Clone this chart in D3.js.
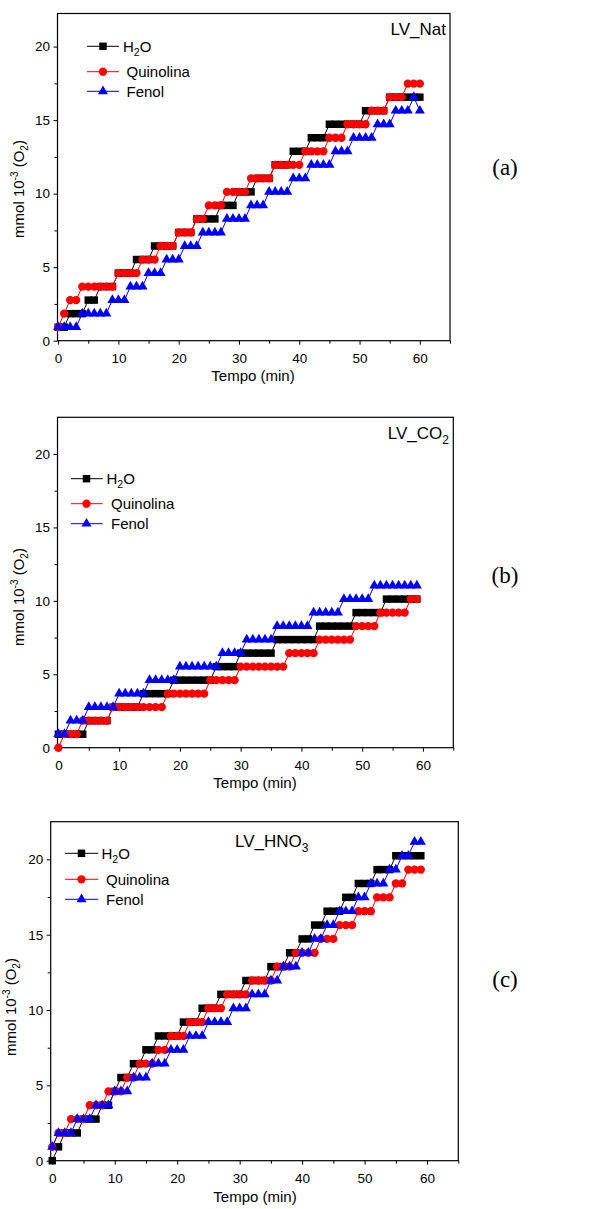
<!DOCTYPE html>
<html>
<head>
<meta charset="utf-8">
<script src="https://cdn.jsdelivr.net/npm/d3@7/dist/d3.min.js"></script>
<style>
  body { margin: 0; background: #fff; }
  svg text { font-family: "Liberation Sans", Arial, sans-serif; fill: #000; }
</style>
</head>
<body>
<svg id="chart" width="590" height="1209"></svg>
<script>
var svg = d3.select("#chart");

// time (min)
var tempo = [0,1,2,3,4,5,6,7,8,9,10,11,12,13,14,15,16,17,18,19,20,21,22,23,24,25,26,27,28,29,
  30,31,32,33,34,35,36,37,38,39,40,41,42,43,44,45,46,47,48,49,50,51,52,53,54,55,56,57,58,59,60];

// (a) LV_Nat  - mmol 10^-3 O2
var nat_h2o = [0.92,0.92, 1.84,1.84,1.84, 2.76,2.76, 3.68,3.68,3.68, 4.6,4.6,4.6, 5.52,5.52,5.52,
  6.44,6.44,6.44,6.44, 7.36,7.36,7.36, 8.28,8.28,8.28,8.28, 9.2,9.2,9.2, 10.12,10.12,10.12,
  11.04,11.04,11.04, 11.96,11.96,11.96, 12.88,12.88,12.88, 13.8,13.8,13.8,
  14.72,14.72,14.72,14.72,14.72,14.72, 15.64,15.64,15.64,15.64, 16.56,16.56,16.56,16.56,16.56,16.56];
var nat_quin = [0.92, 1.84, 2.76,2.76, 3.68,3.68,3.68,3.68,3.68,3.68, 4.6,4.6,4.6,4.6, 5.52,5.52,5.52,
  6.44,6.44,6.44, 7.36,7.36,7.36, 8.28,8.28, 9.2,9.2,9.2, 10.12,10.12,10.12,10.12,
  11.04,11.04,11.04,11.04, 11.96,11.96,11.96,11.96,11.96, 12.88,12.88,12.88,12.88, 13.8,13.8,13.8,
  14.72,14.72,14.72,14.72, 15.64,15.64,15.64, 16.56,16.56,16.56, 17.48,17.48,17.48];
var nat_fenol = [0.92,0.92,0.92,0.92, 1.84,1.84,1.84,1.84,1.84, 2.76,2.76,2.76, 3.68,3.68,3.68,
  4.6,4.6,4.6, 5.52,5.52,5.52, 6.44,6.44,6.44, 7.36,7.36,7.36,7.36, 8.28,8.28,8.28,8.28,
  9.2,9.2,9.2, 10.12,10.12,10.12,10.12, 11.04,11.04,11.04, 11.96,11.96,11.96,11.96,
  12.88,12.88,12.88, 13.8,13.8,13.8,13.8, 14.72,14.72,14.72, 15.64,15.64,15.64, 16.56, 15.64];

// (b) LV_CO2
var co2_h2o = [0.92,0.92,0.92,0.92,0.92, 1.84,1.84,1.84,1.84, 2.76,2.76,2.76,2.76,2.76,
  3.68,3.68,3.68,3.68,3.68, 4.6,4.6,4.6,4.6,4.6,4.6,4.6, 5.52,5.52,5.52,5.52,
  6.44,6.44,6.44,6.44,6.44,6.44, 7.36,7.36,7.36,7.36,7.36,7.36,7.36, 8.28,8.28,8.28,8.28,8.28,8.28,
  9.2,9.2,9.2,9.2,9.2, 10.12,10.12,10.12,10.12,10.12,10.12];
var co2_quin = [0, 0.92,0.92,0.92, 1.84,1.84,1.84,1.84,1.84, 2.76,2.76,2.76,2.76,2.76,2.76,2.76,2.76,2.76,
  3.68,3.68,3.68,3.68,3.68,3.68,3.68, 4.6,4.6,4.6,4.6,4.6, 5.52,5.52,5.52,5.52,5.52,5.52,5.52,5.52,
  6.44,6.44,6.44,6.44,6.44, 7.36,7.36,7.36,7.36,7.36,7.36, 8.28,8.28,8.28,8.28,
  9.2,9.2,9.2,9.2,9.2, 10.12,10.12];
var co2_fenol = [0.92,0.92, 1.84,1.84,1.84, 2.76,2.76,2.76,2.76,2.76, 3.68,3.68,3.68,3.68,3.68,
  4.6,4.6,4.6,4.6,4.6, 5.52,5.52,5.52,5.52,5.52,5.52,5.52, 6.44,6.44,6.44,6.44,
  7.36,7.36,7.36,7.36,7.36, 8.28,8.28,8.28,8.28,8.28,8.28, 9.2,9.2,9.2,9.2,9.2,
  10.12,10.12,10.12,10.12,10.12, 11.04,11.04,11.04,11.04,11.04,11.04,11.04,11.04];

// (c) LV_HNO3
var hno3_h2o = [0, 0.92, 1.84,1.84,1.84, 2.76,2.76,2.76, 3.68,3.68, 4.6, 5.52,5.52, 6.44,6.44, 7.36,7.36,
  8.28,8.28,8.28,8.28, 9.2,9.2,9.2, 10.12,10.12,10.12, 11.04,11.04,11.04,11.04,
  11.96,11.96,11.96,11.96, 12.88,12.88,12.88, 13.8,13.8, 14.72,14.72, 15.64,15.64,
  16.56,16.56,16.56, 17.48,17.48, 18.4,18.4,18.4, 19.32,19.32,19.32, 20.24,20.24,20.24,20.24,20.24];
var hno3_quin = [0.92, 1.84,1.84, 2.76,2.76,2.76, 3.68,3.68,3.68, 4.6,4.6,4.6, 5.52,5.52, 6.44,6.44,6.44,
  7.36,7.36, 8.28,8.28,8.28, 9.2,9.2,9.2, 10.12,10.12,10.12, 11.04,11.04,11.04,11.04,
  11.96,11.96,11.96,11.96, 12.88,12.88,12.88, 13.8,13.8,13.8,13.8, 14.72,14.72,14.72,
  15.64,15.64,15.64, 16.56,16.56,16.56, 17.48,17.48,17.48, 18.4,18.4, 19.32,19.32,19.32];
var hno3_fenol = [0.92, 1.84,1.84,1.84, 2.76,2.76,2.76, 3.68,3.68,3.68, 4.6,4.6,4.6, 5.52,5.52,5.52,
  6.44,6.44,6.44, 7.36,7.36,7.36, 8.28,8.28,8.28, 9.2,9.2,9.2,9.2, 10.12,10.12,10.12,
  11.04,11.04,11.04, 11.96,11.96, 12.88,12.88,12.88, 13.8,13.8, 14.72,14.72, 15.64,15.64,
  16.56,16.56,16.56, 17.48,17.48, 18.4,18.4,18.4, 19.32,19.32, 20.24,20.24, 21.16,21.16];

var seriesNames = ["H2O", "Quinolina", "Fenol"];
var seriesColors = ["#000000", "#ff0000", "#0000ff"];
var seriesSymbols = [d3.symbolSquare, d3.symbolCircle, d3.symbolTriangle];
var symbolSizes = [56, 54, 44];

var xTicks = [0, 10, 20, 30, 40, 50, 60];
var xMinor = [5, 15, 25, 35, 45, 55, 65];
var yTicks = [0, 5, 10, 15, 20];
var yMinor = [2.5, 7.5, 12.5, 17.5];

var panels = [
  {data: [nat_h2o, nat_quin, nat_fenol], title: ["LV_Nat", ""], tag: "(a)",
   left: 57.5, right: 450, top: 13.5, bottom: 340.7, xDom: [-0.1, 65], yDom: [0, 22.25],
   titleX: 446, titleY: 35, titleAnchor: "end", tagY: 175,
   leg: {x1: 87, x2: 119, xm: 103, tx: [123, 126.5, 126.5], ys: [46.3, 71.7, 91.3]},
   ylab: {x: 24, y: 189}, xlab: {x: 253, y: 381}},
  {data: [co2_h2o, co2_quin, co2_fenol], title: ["LV_CO", "2"], tag: "(b)",
   left: 57.5, right: 453.3, top: 417.3, bottom: 747.7, xDom: [-0.15, 65], yDom: [0, 22.5],
   titleX: 449, titleY: 439, titleAnchor: "end", tagY: 583,
   leg: {x1: 71, x2: 102.7, xm: 86.5, tx: [106.5, 111, 111], ys: [478.7, 503.7, 523.7]},
   ylab: {x: 24, y: 597}, xlab: {x: 255, y: 788}},
  {data: [hno3_h2o, hno3_quin, hno3_fenol], title: ["LV_HNO", "3"], tag: "(c)",
   left: 50.7, right: 458.3, top: 821.7, bottom: 1160.7, xDom: [-0.25, 65], yDom: [0, 22.5],
   titleX: 235, titleY: 847, titleAnchor: "start", tagY: 987,
   leg: {x1: 65, x2: 98.3, xm: 81.5, tx: [101.5, 106, 106], ys: [853.3, 879.3, 899.3]},
   ylab: {x: 16, y: 1007}, xlab: {x: 255, y: 1202}}
];

function styleAxis(sel) {
  sel.select(".domain").remove();
  sel.selectAll("line").attr("stroke", "#000").attr("stroke-width", 1);
  sel.selectAll("text")
    .attr("font-family", "Liberation Sans, Arial, sans-serif")
    .attr("font-size", 13.5).attr("fill", "#000");
}

function drawPanel(p) {
  var g = svg.append("g");

  var x = d3.scaleLinear().domain(p.xDom).range([p.left, p.right]);
  var y = d3.scaleLinear().domain(p.yDom).range([p.bottom, p.top]);

  // axes (ticks outside)
  g.append("g").attr("transform", "translate(0," + p.bottom + ")")
    .call(d3.axisBottom(x).tickValues(xTicks).tickSize(4).tickPadding(8.5).tickFormat(d3.format("d")))
    .call(styleAxis);
  g.append("g").attr("transform", "translate(0," + p.bottom + ")")
    .call(d3.axisBottom(x).tickValues(xMinor).tickSize(3).tickFormat(""))
    .call(styleAxis);
  g.append("g").attr("transform", "translate(" + p.left + ",0)")
    .call(d3.axisLeft(y).tickValues(yTicks).tickSize(4).tickPadding(3.5).tickFormat(d3.format("d")))
    .call(styleAxis);
  g.append("g").attr("transform", "translate(" + p.left + ",0)")
    .call(d3.axisLeft(y).tickValues(yMinor).tickSize(3).tickFormat(""))
    .call(styleAxis);

  g.append("rect")
    .attr("x", p.left).attr("y", p.top)
    .attr("width", p.right - p.left).attr("height", p.bottom - p.top)
    .attr("fill", "none").attr("stroke", "#000").attr("stroke-width", 1.2);

  var line = d3.line()
    .x(function(d, i) { return x(tempo[i]); })
    .y(function(d) { return y(d); });

  p.data.forEach(function(vals, s) {
    g.append("path")
      .datum(vals)
      .attr("d", line)
      .attr("fill", "none")
      .attr("stroke", seriesColors[s])
      .attr("stroke-width", 1);

    g.selectAll(".pt" + s).data(vals)
      .enter().append("path")
      .attr("class", "pt" + s)
      .attr("d", d3.symbol().type(seriesSymbols[s]).size(symbolSizes[s]))
      .attr("transform", function(d, i) { return "translate(" + [x(tempo[i]), y(d)] + ")"; })
      .attr("fill", seriesColors[s]);
  });

  // legend
  var L = p.leg;
  seriesNames.forEach(function(name, s) {
    var ly = L.ys[s];
    g.append("line").attr("x1", L.x1).attr("x2", L.x2).attr("y1", ly).attr("y2", ly)
      .attr("stroke", seriesColors[s]).attr("stroke-width", 1);
    g.append("path")
      .attr("d", d3.symbol().type(seriesSymbols[s]).size(symbolSizes[s]))
      .attr("transform", "translate(" + [L.xm, ly] + ")")
      .attr("fill", seriesColors[s]);
    var t = g.append("text").attr("x", L.tx[s]).attr("y", ly + 5.4).attr("font-size", 15);
    if (s === 0) {
      t.append("tspan").text("H");
      t.append("tspan").attr("dy", 4).attr("font-size", 10.5).text("2");
      t.append("tspan").attr("dy", -4).text("O");
    } else {
      t.text(name);
    }
  });

  // title inside plot
  var tt = g.append("text").attr("x", p.titleX).attr("y", p.titleY)
    .attr("text-anchor", p.titleAnchor).attr("font-size", 17);
  tt.append("tspan").text(p.title[0]);
  if (p.title[1]) tt.append("tspan").attr("dy", 5).attr("font-size", 12).text(p.title[1]);

  // panel tag
  g.append("text").attr("x", 505).attr("y", p.tagY)
    .attr("text-anchor", "middle")
    .style("font-family", "'Liberation Serif', 'Times New Roman', serif")
    .attr("font-size", 23).text(p.tag);

  // x label
  g.append("text").attr("x", p.xlab.x).attr("y", p.xlab.y)
    .attr("text-anchor", "middle").attr("font-size", 15).text("Tempo (min)");

  // y label
  var yl = g.append("text")
    .attr("transform", "translate(" + [p.ylab.x, p.ylab.y] + ") rotate(-90)")
    .attr("text-anchor", "middle").attr("font-size", 15);
  yl.append("tspan").text("mmol 10");
  yl.append("tspan").attr("dy", -6).attr("font-size", 10).text("-3");
  yl.append("tspan").attr("dy", 6).text(" (O");
  yl.append("tspan").attr("dy", 4).attr("font-size", 10).text("2");
  yl.append("tspan").attr("dy", -4).text(")");
}

panels.forEach(drawPanel);
</script>
</body>
</html>
